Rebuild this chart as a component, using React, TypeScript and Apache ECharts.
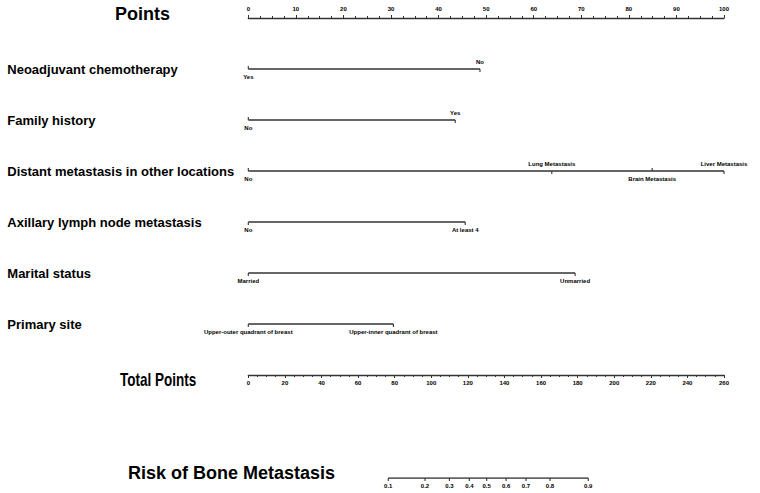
import React, { useEffect, useRef } from 'react';
import * as echarts from 'echarts';

const FONT = '"Liberation Sans", Arial, Helvetica, sans-serif';
const LINE = '#333333';

const rowNames = [
  'Neoadjuvant chemotherapy',
  'Family history',
  'Distant metastasis in other locations',
  'Axillary lymph node metastasis',
  'Marital status',
  'Primary site',
];

// levels and their points (0-100 scale)
const neoLevels = ['Yes', 'No'];
const neoPoints = [0, 48.7];
const famLevels = ['No', 'Yes'];
const famPoints = [0, 43.5];
const distLevels = ['No', 'Lung Metastasis', 'Brain Metastasis', 'Liver Metastasis'];
const distPoints = [0, 63.8, 84.9, 100];
const axLevels = ['No', 'At least 4'];
const axPoints = [0, 45.6];
const marLevels = ['Married', 'Unmarried'];
const marPoints = [0, 68.7];
const siteLevels = ['Upper-outer quadrant of breast', 'Upper-inner quadrant of breast'];
const sitePoints = [0, 30.5];

// label side: 1 = below the line, -1 = above
const neoSides = [1, -1];
const famSides = [1, -1];
const distSides = [1, -1, 1, -1];
const axSides = [1, 1];
const marSides = [1, 1];
const siteSides = [1, 1];

// risk scale: probability labels and the total points where they sit
const riskLabels = ['0.1', '0.2', '0.3', '0.4', '0.5', '0.6', '0.7', '0.8', '0.9'];
const riskTotalPoints = [76.5, 96.6, 109.9, 120.8, 130.3, 140.9, 151.8, 164.9, 185.8];

const pointsTicks = { min: 0, max: 100, interval: 10 };
const totalTicks = { min: 0, max: 260, interval: 20 };

const rows = [
  { levels: neoLevels, pts: neoPoints, sides: neoSides },
  { levels: famLevels, pts: famPoints, sides: famSides },
  { levels: distLevels, pts: distPoints, sides: distSides },
  { levels: axLevels, pts: axPoints, sides: axSides },
  { levels: marLevels, pts: marPoints, sides: marSides },
  { levels: siteLevels, pts: sitePoints, sides: siteSides },
];

const smallLabel = { fontSize: 6, fontWeight: 'bold' as const, color: '#000', fontFamily: FONT };

export default function App() {
  const ref = useRef<HTMLDivElement>(null);
  useEffect(() => {
    if (!ref.current) return;
    const chart = echarts.init(ref.current, null, { renderer: 'svg' });
    const L = 248.3;
    const W = 475.7;

    const rowSeries = rows.map((r, ri) => {
      const allBelow = r.sides.every((s) => s === 1);
      return {
        type: 'line',
        xAxisIndex: 1,
        yAxisIndex: 1,
        silent: true,
        lineStyle: { color: LINE, width: 1.3 },
        itemStyle: { color: LINE },
        data: r.levels.map((lv, i) => {
          const side = r.sides[i];
          const tickDir = allBelow ? 1 : -side;
          return {
            name: lv,
            value: [r.pts[i], rowNames[ri]],
            symbol: 'rect',
            symbolSize: [1.1, 3],
            symbolOffset: [0, tickDir * 1.5],
            label: {
              show: true,
              position: side === 1 ? 'bottom' : 'top',
              distance: side === 1 ? (tickDir === 1 ? 2 : 4.5) : 4.5,
              formatter: lv,
              ...smallLabel,
            },
          };
        }),
      };
    });

    const riskSeries = {
      type: 'line',
      xAxisIndex: 3,
      yAxisIndex: 3,
      silent: true,
      lineStyle: { color: LINE, width: 1.3 },
      itemStyle: { color: LINE },
      data: riskLabels.map((lb, i) => ({
        name: lb,
        value: [riskTotalPoints[i], 1],
        symbol: 'rect',
        symbolSize: [1.1, 3],
        symbolOffset: [0, 1.5],
        label: { show: true, position: 'bottom', distance: 2, formatter: lb, ...smallLabel },
      })),
    };

    const titleText = (text: string, x: number, y: number, fontSize = 18, scaleX = 1) => ({
      type: 'text',
      x,
      y,
      scaleX,
      style: {
        text,
        fontSize,
        fontWeight: 'bold',
        fontFamily: FONT,
        fill: '#000',
        verticalAlign: 'middle',
      },
    });

    chart.setOption({
      animation: false,
      backgroundColor: '#fff',
      graphic: [
        titleText('Points', 115, 14),
        titleText('Total Points', 120, 380, 18, 0.75),
        titleText('Risk of Bone Metastasis', 128, 473),
      ],
      grid: [
        { left: L, width: W, top: 17, height: 1 },
        { left: L, width: W, top: 43.5, height: 306 },
        { left: L, width: W, top: 374, height: 1 },
        { left: L, width: W, top: 478, height: 1 },
      ],
      xAxis: [
        {
          gridIndex: 0,
          type: 'value',
          position: 'top',
          ...pointsTicks,
          axisLine: { show: true, lineStyle: { color: LINE, width: 1.3 } },
          axisTick: { show: true, length: 3, lineStyle: { color: LINE, width: 1 } },
          minorTick: { show: true, splitNumber: 4, length: 2, lineStyle: { color: LINE, width: 1 } },
          splitLine: { show: false },
          axisLabel: { margin: 5, ...smallLabel },
        },
        { gridIndex: 1, type: 'value', min: 0, max: 100, show: false },
        {
          gridIndex: 2,
          type: 'value',
          position: 'bottom',
          ...totalTicks,
          axisLine: { show: true, lineStyle: { color: LINE, width: 1.3 } },
          axisTick: { show: true, length: 3, lineStyle: { color: LINE, width: 1 } },
          minorTick: { show: true, splitNumber: 4, length: 2, lineStyle: { color: LINE, width: 1 } },
          splitLine: { show: false },
          axisLabel: { margin: 5, ...smallLabel },
        },
        { gridIndex: 3, type: 'value', min: 0, max: 260, show: false },
      ],
      yAxis: [
        { gridIndex: 0, type: 'value', show: false },
        {
          gridIndex: 1,
          type: 'category',
          inverse: true,
          data: rowNames,
          axisLine: { show: false },
          axisTick: { show: false },
          splitLine: { show: false },
          axisLabel: {
            align: 'left',
            margin: 241,
            fontSize: 13,
            fontWeight: 'bold',
            color: '#000',
            fontFamily: FONT,
            padding: [4, 0, 0, 0],
          },
        },
        { gridIndex: 2, type: 'value', show: false },
        { gridIndex: 3, type: 'value', min: 0, max: 1, show: false },
      ],
      series: [...rowSeries, riskSeries],
    });
    return () => chart.dispose();
  }, []);
  return (
    <div
      ref={ref}
      style={{ position: 'fixed', left: 0, top: 0, width: 760, height: 493, background: '#fff' }}
    />
  );
}
